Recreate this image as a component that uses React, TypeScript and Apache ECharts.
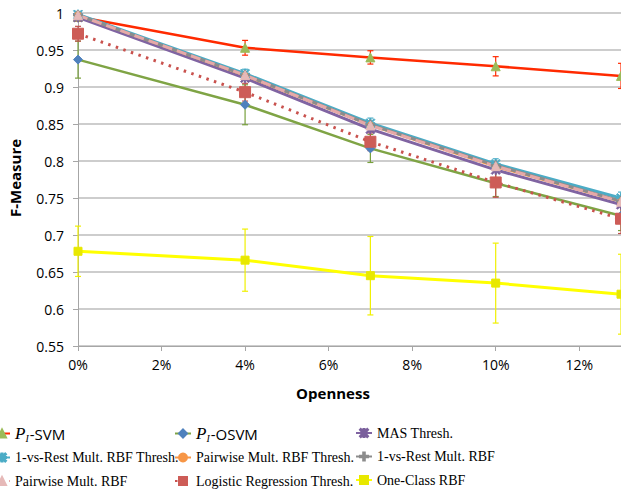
import React, { useEffect, useRef } from "react";
import * as echarts from "echarts";

const xs = [0, 4, 7, 10, 13];
const xTicks = [0, 2, 4, 6, 8, 10, 12];
const p1svm = [0.995, 0.953, 0.94, 0.928, 0.915];
const p1svmErr = [0.006, 0.01, 0.009, 0.013, 0.017];
const p1osvm = [0.937, 0.876, 0.817, 0.77, 0.726];
const p1osvmErr = [0.025, 0.027, 0.019, 0.018, 0.02];
const mas = [0.994, 0.912, 0.843, 0.788, 0.741];
const ovrThresh = [0.998, 0.918, 0.851, 0.796, 0.75];
const ovrThreshErr = [0.003, 0.006, 0.007, 0.007, 0.008];
const pairThresh = [0.997, 0.915, 0.848, 0.792, 0.745];
const ovr = [0.997, 0.916, 0.849, 0.794, 0.746];
const pair = [0.997, 0.916, 0.848, 0.793, 0.745];
const logistic = [0.972, 0.893, 0.826, 0.771, 0.722];
const logisticErr = [0.01, 0.012, 0.012, 0.02, 0.02];
const oneClass = [0.678, 0.666, 0.645, 0.635, 0.62];
const oneClassErr = [0.034, 0.042, 0.053, 0.054, 0.054];

const pts = (ys: number[]) => xs.map((x, i) => [x, ys[i]]);
const errPts = (ys: number[], es: number[]) => xs.map((x, i) => [x, ys[i], es[i]]);

const plusPath = "path://M0,4L10,4L10,6L0,6Z M4,0L6,0L6,10L4,10Z";
const starPath =
  "path://M1,0L5,3.6L9,0L10,1L6.4,5L10,9L9,10L5,6.4L1,10L0,9L3.6,5L0,1Z M4.3,0L5.7,0L5.7,10L4.3,10Z";
const asteriskPath =
  "path://M0,4.3L10,4.3L10,5.7L0,5.7Z M4.3,0L5.7,0L5.7,10L4.3,10Z M1,0L10,9L9,10L0,1Z M9,0L10,1L1,10L0,9Z";

function errSeries(name: string, data: number[][], color: string) {
  return {
    type: "custom",
    name,
    data,
    encode: { x: 0, y: 1 },
    z: 3,
    renderItem: (params: any, api: any) => {
      const x = api.value(0);
      const y = api.value(1);
      const e = api.value(2);
      const top = api.coord([x, y + e]);
      const bot = api.coord([x, y - e]);
      const hw = 3;
      const st = { stroke: color, lineWidth: 1.2 };
      return {
        type: "group",
        children: [
          { type: "line", shape: { x1: top[0], y1: top[1], x2: bot[0], y2: bot[1] }, style: st },
          { type: "line", shape: { x1: top[0] - hw, y1: top[1], x2: top[0] + hw, y2: top[1] }, style: st },
          { type: "line", shape: { x1: bot[0] - hw, y1: bot[1], x2: bot[0] + hw, y2: bot[1] }, style: st },
        ],
      };
    },
  };
}

function lineSeries(
  name: string,
  ys: number[],
  color: string,
  symbol: string,
  symbolColor: string,
  size: number,
  lineType: any = "solid",
  width = 3
) {
  return {
    type: "line",
    name,
    data: pts(ys),
    color,
    symbol,
    symbolSize: size,
    showAllSymbol: true,
    lineStyle: { color, width, type: lineType },
    itemStyle: { color: symbolColor, borderColor: symbolColor, borderWidth: 1 },
    emphasis: { disabled: true },
    z: 4,
  };
}

export default function App() {
  const ref = useRef<HTMLDivElement>(null);
  useEffect(() => {
    document.body.style.margin = "0";
    const chart = echarts.init(ref.current!, null, { renderer: "svg" });
    const legendText = {
      fontFamily: "Liberation Serif",
      fontSize: 14,
      color: "#000",
      lineHeight: 18,
      rich: {
        i: { fontFamily: "Liberation Serif", fontStyle: "italic", fontSize: 17, lineHeight: 18 },
        s: { fontFamily: "Liberation Serif", fontStyle: "italic", fontSize: 10, padding: [9, 1, 0, 0], lineHeight: 18 },
        n: { fontFamily: "Open Sans", fontSize: 15, lineHeight: 18 },
      },
    };
    const legendFormatter = (name: string) => {
      if (name === "PI-SVM") return "{i|P}{s|I}{n|-SVM}";
      if (name === "PI-OSVM") return "{i|P}{s|I}{n|-OSVM}";
      return name;
    };
    const legendBase = {
      orient: "vertical",
      top: 424,
      height: 100,
      padding: 0,
      itemWidth: 16,
      itemHeight: 10,
      itemGap: 5.5,
      selectedMode: false,
      textStyle: legendText,
      formatter: legendFormatter,
    };
    chart.setOption({
      animation: false,
      grid: { left: 78, right: 0, top: 13, bottom: 143, containLabel: false },
      xAxis: {
        type: "value",
        min: 0,
        max: 13,
        interval: 2,
        axisLine: { show: true, lineStyle: { color: "#a6a6a6", width: 1 } },
        axisTick: { show: true, length: 5, lineStyle: { color: "#a6a6a6" } },
        splitLine: { show: false },
        axisLabel: {
          showMaxLabel: false,
          margin: 11,
          color: "#000",
          fontFamily: "Open Sans",
          fontSize: 14,
          formatter: (v: number) => (xTicks.indexOf(Math.round(v)) >= 0 ? Math.round(v) + "%" : ""),
        },
      },
      yAxis: {
        type: "value",
        min: 0.55,
        max: 1,
        interval: 0.05,
        axisLine: { show: true, lineStyle: { color: "#a6a6a6", width: 1 } },
        axisTick: { show: true, length: 5, lineStyle: { color: "#a6a6a6" } },
        splitLine: { show: true, lineStyle: { color: "#bdbdbd", width: 1.5 } },
        axisLabel: {
          margin: 14,
          color: "#000",
          fontFamily: "Open Sans",
          fontSize: 14,
          formatter: (v: number) => String(Math.round(v * 100) / 100),
        },
      },
      graphic: [
        {
          type: "text",
          x: 333,
          y: 393,
          style: {
            text: "Openness",
            font: "bold 15px 'Open Sans'",
            fill: "#000",
            textAlign: "center",
            textVerticalAlign: "middle",
          },
        },
        {
          type: "text",
          x: 15,
          y: 178,
          rotation: Math.PI / 2,
          style: {
            text: "F-Measure",
            font: "bold 15px 'Open Sans'",
            fill: "#000",
            textAlign: "center",
            textVerticalAlign: "middle",
          },
        },
      ],
      legend: [
        { ...legendBase, left: -7, data: ["PI-SVM", "1-vs-Rest Mult. RBF Thresh.", "Pairwise Mult. RBF"] },
        { ...legendBase, left: 174, data: ["PI-OSVM", "Pairwise Mult. RBF Thresh.", "Logistic Regression Thresh."] },
        { ...legendBase, left: 355, data: ["MAS Thresh.", "1-vs-Rest Mult. RBF", "One-Class RBF"] },
      ],
      series: [
        errSeries("e1", errPts(p1svm, p1svmErr), "#ff2a00"),
        lineSeries("PI-SVM", p1svm, "#ff2a00", "triangle", "#9bbb59", 9, "solid", 2.5),
        errSeries("e2", errPts(p1osvm, p1osvmErr), "#77a03c"),
        lineSeries("PI-OSVM", p1osvm, "#7fa445", "diamond", "#4f81bd", 9, "solid", 2.5),
        lineSeries("MAS Thresh.", mas, "#8064a2", starPath, "#7a5f9c", 9),
        errSeries("e3", errPts(ovrThresh, ovrThreshErr), "#4bacc6"),
        lineSeries("1-vs-Rest Mult. RBF Thresh.", ovrThresh, "#4bacc6", asteriskPath, "#4bacc6", 9),
        lineSeries("Pairwise Mult. RBF Thresh.", pairThresh, "#f79646", "circle", "#f79646", 7, "solid", 2),
        lineSeries("1-vs-Rest Mult. RBF", ovr, "#8c8c8c", plusPath, "#8c8c8c", 9),
        lineSeries("Pairwise Mult. RBF", pair, "#e6a9a8", "triangle", "#e6b9b8", 9, [10, 5], 3),
        errSeries("e4", errPts(logistic, logisticErr), "#c0504d"),
        lineSeries("Logistic Regression Thresh.", logistic, "#c9524e", "rect", "#cd5c57", 11, [2.5, 5.5], 3),
        errSeries("e5", errPts(oneClass, oneClassErr), "#f0f000"),
        lineSeries("One-Class RBF", oneClass, "#ffff00", "rect", "#e8e800", 8, "solid", 3),
      ],
    });
    return () => chart.dispose();
  }, []);
  return <div ref={ref} style={{ width: 621, height: 489 }} />;
}
